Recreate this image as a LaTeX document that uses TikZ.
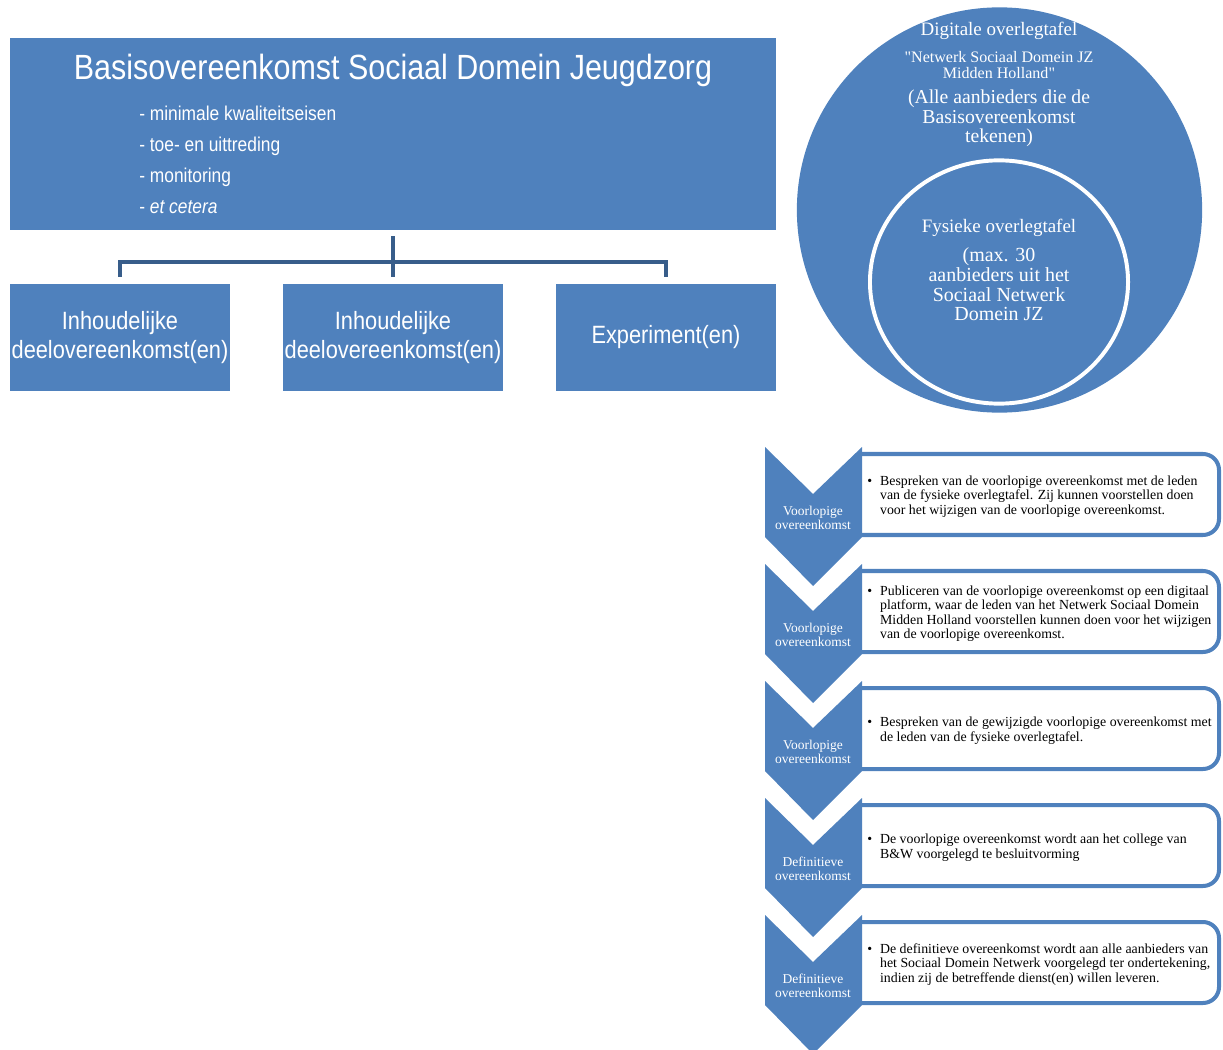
\documentclass[tikz,border=0pt]{standalone}
\usepackage{fontspec}
\setmainfont{Liberation Serif}
\newfontfamily\smalsans[FakeStretch=0.87]{Liberation Sans}
\usetikzlibrary{shapes.geometric}
\definecolor{blauw}{HTML}{4F81BD}
\definecolor{lijnblauw}{HTML}{385D8A}

\begin{document}
\begin{tikzpicture}[x=0.025cm,y=-0.025cm,
        blok/.style={fill=blauw,inner sep=0pt,text=white,align=center,
            font=\smalsans\fontsize{17.8}{20.6}\selectfont},
        verbinding/.style={draw=lijnblauw,line width=3.5pt},
        wittekst/.style={text=white,align=center,inner sep=0pt},
        stapkader/.style={draw=blauw,fill=white,line width=2.85pt,rounded corners=0.4cm},
        pijltekst/.style={wittekst,font=\fontsize{9.6}{10}\selectfont},
        staptekst/.style={anchor=west,inner sep=0pt,font=\fontsize{9.85}{10.3}\selectfont}]

        \useasboundingbox (0,0) rectangle (1223,1050);

        % basisovereenkomst en deelovereenkomsten
        \node (basis) [blok,minimum width=19.15cm,minimum height=4.8cm] at (393,134) {};
        \node (titel) [wittekst,font=\smalsans\fontsize{24.9}{28}\selectfont] at (393,70)
            {Basisovereenkomst Sociaal Domein Jeugdzorg};
        \node (eisen) [wittekst,align=left,anchor=west,font=\smalsans\fontsize{14.2}{22.05}\selectfont]
            at (139,160) {- minimale kwaliteitseisen\\- toe- en uittreding\\- monitoring\\- \textit{et cetera}};
        \node (deel1) [blok,minimum width=5.5cm,minimum height=2.675cm] at (120,337.5)
            {Inhoudelijke\\deelovereenkomst(en)};
        \node (deel2) [blok,minimum width=5.5cm,minimum height=2.675cm] at (393,337.5)
            {Inhoudelijke\\deelovereenkomst(en)};
        \node (exp) [blok,minimum width=5.5cm,minimum height=2.675cm] at (666,337.5)
            {Experiment(en)};
        \coordinate (splitsing) at (393,262);
        \draw[verbinding] ([yshift=-0.15cm]basis.south) -- ([yshift=0.175cm]deel2.north);
        \draw[verbinding] ([yshift=0.175cm]deel1.north) |- (splitsing) -| ([yshift=0.175cm]exp.north);

        % overlegtafels
        \node (digitaal) [circle,fill=blauw,minimum size=10.13cm,inner sep=0pt] at (999.5,210) {};
        \node (fysiek) [ellipse,draw=white,line width=2.8pt,minimum width=6.45cm,
            minimum height=6.08cm,inner sep=0pt] at (999,282) {};
        \node (digikop) [wittekst,font=\fontsize{13.5}{15}\selectfont] at (999,31) {Digitale overlegtafel};
        \node (netwerk) [wittekst,font=\fontsize{11.4}{11.6}\selectfont] at (999,65)
            {\textquotedbl Netwerk Sociaal Domein JZ\\Midden Holland\textquotedbl};
        \node (alle) [wittekst,font=\fontsize{14}{13.9}\selectfont] at (999,118.5)
            {(Alle aanbieders die de\\Basisovereenkomst\\tekenen)};
        \node (fysiekkop) [wittekst,font=\fontsize{13.5}{15}\selectfont] at (999,228) {Fysieke overlegtafel};
        \node (max) [wittekst,font=\fontsize{14.2}{14}\selectfont] at (999,284.5)
            {(max. 30\\aanbieders uit het\\Sociaal Netwerk\\Domein JZ};

        % stappen
        \foreach \k in {0,...,4} {
            \pgfmathsetmacro{\ytop}{447+117*\k}
            \draw[stapkader] (862,\ytop+7) -- (1219,\ytop+7) -- (1219,\ytop+88) -- (862,\ytop+88);
            \fill[blauw] (765,\ytop) -- (813,\ytop+47) -- (862,\ytop) -- (862,\ytop+90)
                -- (813,\ytop+139) -- (765,\ytop+90) -- cycle;
        }
        \node (pijl1) [pijltekst] at (813,518) {Voorlopige\\overeenkomst};
        \node (pijl2) [pijltekst] at (813,635) {Voorlopige\\overeenkomst};
        \node (pijl3) [pijltekst] at (813,752) {Voorlopige\\overeenkomst};
        \node (pijl4) [pijltekst] at (813,869) {Definitieve\\overeenkomst};
        \node (pijl5) [pijltekst] at (813,986) {Definitieve\\overeenkomst};
        \node (stap1) [staptekst] at (867,496.5) {\textbullet\hspace{0.2cm}\parbox[t]{8.6cm}{%
            Bespreken van de voorlopige overeenkomst met de leden\\
            van de fysieke overlegtafel. Zij kunnen voorstellen doen\\
            voor het wijzigen van de voorlopige overeenkomst.}};
        \node (stap2) [staptekst] at (867,613.5) {\textbullet\hspace{0.2cm}\parbox[t]{8.6cm}{%
            Publiceren van de voorlopige overeenkomst op een digitaal\\
            platform, waar de leden van het Netwerk Sociaal Domein\\
            Midden Holland voorstellen kunnen doen voor het wijzigen\\
            van de voorlopige overeenkomst.}};
        \node (stap3) [staptekst] at (867,730.5) {\textbullet\hspace{0.2cm}\parbox[t]{8.6cm}{%
            Bespreken van de gewijzigde voorlopige overeenkomst met\\
            de leden van de fysieke overlegtafel.}};
        \node (stap4) [staptekst] at (867,847.5) {\textbullet\hspace{0.2cm}\parbox[t]{8.6cm}{%
            De voorlopige overeenkomst wordt aan het college van\\
            B\&W voorgelegd te besluitvorming}};
        \node (stap5) [staptekst] at (867,964.5) {\textbullet\hspace{0.2cm}\parbox[t]{8.6cm}{%
            De definitieve overeenkomst wordt aan alle aanbieders van\\
            het Sociaal Domein Netwerk voorgelegd ter ondertekening,\\
            indien zij de betreffende dienst(en) willen leveren.}};
\end{tikzpicture}
\end{document}
